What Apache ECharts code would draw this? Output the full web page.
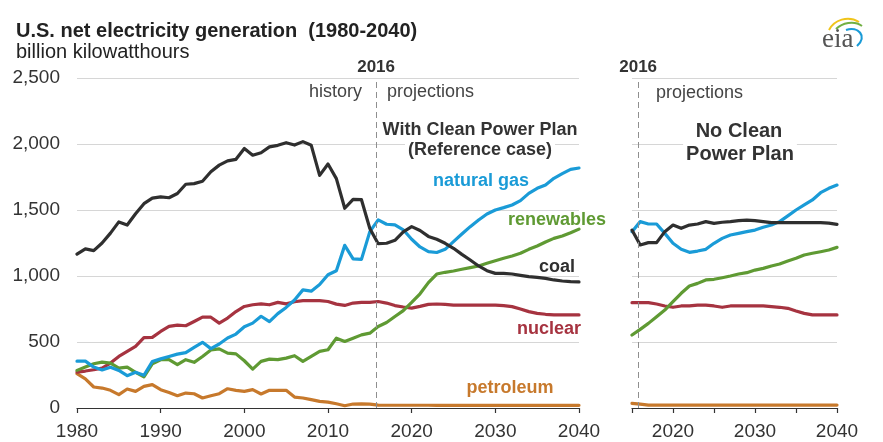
<!DOCTYPE html>
<html>
<head>
<meta charset="utf-8">
<script src="https://cdn.jsdelivr.net/npm/echarts@6/dist/echarts.min.js"></script>
<style>
html,body{margin:0;padding:0;background:#fff;}
#c{width:883px;height:442px;}
</style>
</head>
<body>
<div id="c"></div>
<script>
// ---------- data ----------
var histProjYears = [];
for (var yr = 1980; yr <= 2040; yr++) histProjYears.push(yr);
var noCppYears = [];
for (var yr2 = 2015; yr2 <= 2040; yr2++) noCppYears.push(yr2);

var yTicks = [0, 500, 1000, 1500, 2000, 2500];
var leftXTicks = [1980, 1990, 2000, 2010, 2020, 2030, 2040];
var rightXLabels = [2020, 2030, 2040];
var splitLabel = '2016';
var splitPos = 2015.75;   // history / projections divider

// With Clean Power Plan (Reference case), 1980-2040
var coalRef = [1165,1205,1192,1250,1325,1410,1386,1472,1548,1590,
  1600,1593,1625,1695,1700,1718,1790,1840,1872,1884,
  1966,1915,1934,1978,1990,2010,1992,2018,1990,1762,
  1848,1738,1513,1581,1578,1360,1245,1248,1270,1335,
  1374,1345,1300,1278,1248,1210,1164,1121,1076,1040,
  1020,1020,1015,1005,995,990,982,970,962,957,955];
var gasRef = [355,355,310,288,308,285,245,270,248,352,
  372,390,408,420,460,498,450,485,530,560,
  615,643,695,655,715,762,818,895,885,935,
  1010,1040,1232,1130,1126,1336,1425,1392,1388,1350,
  1278,1220,1185,1178,1202,1260,1318,1374,1424,1470,
  1500,1518,1538,1571,1626,1664,1690,1740,1775,1808,1818];
var renewRef = [285,310,335,348,340,302,310,270,236,335,
  366,366,328,366,346,390,440,448,416,410,
  358,295,353,370,366,378,396,353,391,429,
  441,529,504,529,554,567,617,648,693,738,
  800,865,950,1015,1028,1038,1051,1063,1076,1096,
  1116,1134,1152,1172,1202,1227,1258,1285,1303,1328,1355];
var nuclearRef = [272,280,290,302,340,391,429,467,533,535,
  580,618,628,623,655,688,688,643,681,731,
  769,782,789,782,800,789,805,813,813,813,
  807,787,777,795,800,800,807,795,776,765,
  757,770,785,788,785,780,780,780,780,780,
  780,775,768,750,730,717,710,705,705,705,705];
var petroRef = [260,220,159,151,134,101,144,126,164,177,
  139,118,93,113,108,76,93,108,146,134,
  126,139,106,134,134,134,83,76,63,50,
  45,32,17,30,32,30,22,21,21,21,
  21,21,21,20,20,20,20,20,20,20,
  20,20,20,20,20,20,20,20,20,20,20];

// No Clean Power Plan, 2015-2040
var coalNo = [1348,1235,1253,1253,1336,1386,1361,1386,1394,1412,
  1399,1407,1412,1419,1424,1419,1412,1404,1404,1404,
  1404,1404,1404,1404,1400,1391];
var gasNo = [1336,1412,1394,1394,1323,1248,1202,1179,1189,1202,
  1248,1285,1311,1323,1336,1348,1369,1386,1412,1455,
  1500,1538,1576,1631,1664,1689];
var renewNo = [553,596,641,692,742,806,869,924,944,970,
  975,987,1000,1015,1025,1045,1058,1076,1091,1114,
  1134,1159,1172,1184,1197,1217];
var nuclearNo = [798,798,798,788,773,763,773,773,780,780,
  773,763,773,773,773,773,773,768,763,755,
  735,717,705,705,705,705];
var petroNo = [35,30,22,22,22,22,22,22,22,22,
  22,22,22,22,22,22,22,22,22,22,
  22,22,22,22,22,22];

// ---------- styling ----------
var FONT = 'Liberation Sans, Arial, sans-serif';
var C = {coal:'#2f2f2f', gas:'#1a9bd7', renew:'#5f9a33', nuclear:'#a63340', petro:'#c7792c'};
var TXT = '#333333';

function pairs(xs, ys){ return xs.map(function(x,i){ return [x, ys[i]]; }); }
function fmtNum(v){ return String(v).replace(/\B(?=(\d{3})+(?!\d))/g, ','); }

function line(name, color, xs, ys, gridIdx, extra){
  var s = {
    name: name, type: 'line', xAxisIndex: gridIdx, yAxisIndex: gridIdx,
    data: pairs(xs, ys), showSymbol: false, symbol: 'none',
    lineStyle: {color: color, width: 3.2, cap: 'round', join: 'round'},
    itemStyle: {color: color}, animation: false, silent: true, z: 3
  };
  if (extra) for (var k in extra) s[k] = extra[k];
  return s;
}

function splitMark(){
  return {
    symbol: ['none','none'], silent: true, animation: false,
    lineStyle: {type: [6,4], color: '#8f8f8f', width: 1},
    label: {show: true, position: 'end', formatter: splitLabel,
      fontFamily: FONT, fontWeight: 'bold', fontSize: 17, color: TXT, distance: 2},
    data: [{xAxis: splitPos}]
  };
}

function txt(x, y, s, font, fill, align, bg){
  var st = {text: s, font: font, fill: fill, align: align || 'center', verticalAlign: 'middle'};
  if (bg) { st.backgroundColor = '#ffffff'; st.padding = [0, 3]; }
  return {type: 'text', x: x, y: y, z: 100, style: st};
}

var gridTop = 78, gridH = 330;

var option = {
  animation: false,
  textStyle: {fontFamily: FONT},
  grid: [
    {left: 77, top: gridTop, width: 502, height: gridH},
    {left: 632, top: gridTop, width: 205, height: gridH}
  ],
  xAxis: [
    {gridIndex: 0, type: 'value', min: leftXTicks[0], max: leftXTicks[leftXTicks.length-1], interval: 10,
     axisLine: {show: true, lineStyle: {color: '#333', width: 1.2}},
     axisTick: {show: true, length: 5, lineStyle: {color: '#333', width: 1.2}},
     axisLabel: {fontFamily: FONT, fontSize: 19, color: TXT, margin: 14, formatter: function(v){ return String(v); }},
     splitLine: {show: false}},
    {gridIndex: 1, type: 'value', min: 2015, max: 2040, interval: 5,
     axisLine: {show: true, lineStyle: {color: '#333', width: 1.2}},
     axisTick: {show: true, length: 5, lineStyle: {color: '#333', width: 1.2}},
     axisLabel: {fontFamily: FONT, fontSize: 19, color: TXT, margin: 14,
       formatter: function(v){ return rightXLabels.indexOf(v) >= 0 ? String(v) : ''; }},
     splitLine: {show: false}}
  ],
  yAxis: [
    {gridIndex: 0, type: 'value', min: yTicks[0], max: yTicks[yTicks.length-1], interval: 500,
     axisLine: {show: false}, axisTick: {show: false},
     axisLabel: {fontFamily: FONT, fontSize: 19, color: TXT, margin: 17, formatter: fmtNum},
     splitLine: {show: true, lineStyle: {color: '#d6d6d6', width: 1.2}}},
    {gridIndex: 1, type: 'value', min: yTicks[0], max: yTicks[yTicks.length-1], interval: 500,
     axisLine: {show: false}, axisTick: {show: false}, axisLabel: {show: false},
     splitLine: {show: true, lineStyle: {color: '#d6d6d6', width: 1.2}}}
  ],
  series: [
    line('petroleum', C.petro, histProjYears, petroRef, 0, {markLine: splitMark(), z: 2}),
    line('nuclear', C.nuclear, histProjYears, nuclearRef, 0),
    line('renewables', C.renew, histProjYears, renewRef, 0),
    line('natural gas', C.gas, histProjYears, gasRef, 0),
    line('coal', C.coal, histProjYears, coalRef, 0),
    line('petroleum', C.petro, noCppYears, petroNo, 1, {markLine: splitMark(), z: 2}),
    line('nuclear', C.nuclear, noCppYears, nuclearNo, 1),
    line('renewables', C.renew, noCppYears, renewNo, 1),
    line('natural gas', C.gas, noCppYears, gasNo, 1),
    line('coal', C.coal, noCppYears, coalNo, 1)
  ],
  graphic: [
    {type: 'text', left: 16, top: 21, z: 100, style: {text: 'U.S. net electricity generation  (1980-2040)', font: 'bold 20px ' + FONT, fill: '#222'}},
    {type: 'text', left: 16, top: 42, z: 100, style: {text: 'billion kilowatthours', font: '20px ' + FONT, fill: '#222'}},
    txt(362, 92, 'history', '18px ' + FONT, '#444', 'right'),
    txt(387, 92, 'projections', '18px ' + FONT, '#444', 'left'),
    txt(656, 93, 'projections', '18px ' + FONT, '#444', 'left'),
    txt(480, 130, 'With Clean Power Plan', 'bold 18px ' + FONT, '#333', 'center', true),
    txt(480, 150, '(Reference case)', 'bold 18px ' + FONT, '#333', 'center', true),
    txt(739, 131, 'No Clean', 'bold 20px ' + FONT, '#333', 'center', true),
    txt(740, 154, 'Power Plan', 'bold 20px ' + FONT, '#333', 'center', true),
    txt(481, 181, 'natural gas', 'bold 18px ' + FONT, C.gas),
    txt(557, 220, 'renewables', 'bold 18px ' + FONT, C.renew),
    txt(557, 267, 'coal', 'bold 18px ' + FONT, C.coal),
    txt(549, 329, 'nuclear', 'bold 18px ' + FONT, C.nuclear),
    txt(510, 388, 'petroleum', 'bold 18px ' + FONT, C.petro),
    // eia logo
    {type: 'bezierCurve', z: 100, shape: {x1: 829, y1: 30, x2: 859, y2: 22, cpx1: 834, cpy1: 20, cpx2: 848, cpy2: 15}, style: {stroke: '#f0c419', lineWidth: 2, fill: null}},
    {type: 'bezierCurve', z: 100, shape: {x1: 836, y1: 29, x2: 862, y2: 26, cpx1: 842, cpy1: 23, cpx2: 854, cpy2: 20}, style: {stroke: '#72b043', lineWidth: 2, fill: null}},
    {type: 'bezierCurve', z: 100, shape: {x1: 846, y1: 30, x2: 857, y2: 46, cpx1: 858, cpy1: 26, cpx2: 868, cpy2: 36}, style: {stroke: '#1a9bd7', lineWidth: 2.2, fill: null}},
    {type: 'text', x: 822, y: 40, z: 100, style: {text: 'eia', font: '27px Liberation Serif, serif', fill: '#555', align: 'left', verticalAlign: 'middle'}}
  ]
};

var chart = echarts.init(document.getElementById('c'), null, {renderer: 'canvas'});
chart.setOption(option);
</script>
</body>
</html>
